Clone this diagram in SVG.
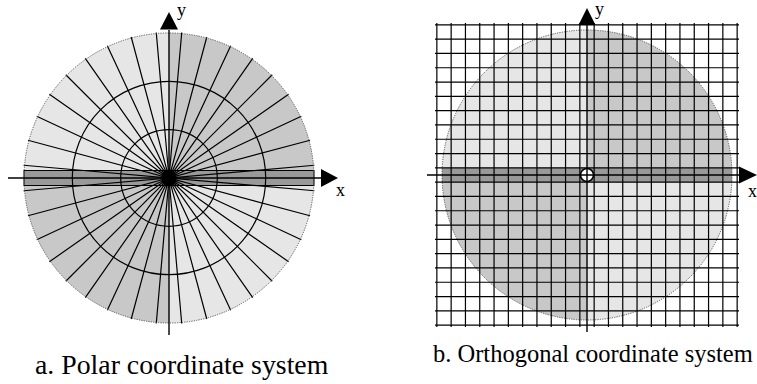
<svg xmlns="http://www.w3.org/2000/svg" width="757" height="384" viewBox="0 0 757 384">
<style>
.light{fill:#e6e6e6}
.dark{fill:#c8c8c8}
.band{fill:#999999}
.ln{stroke:#000;stroke-width:1.2;fill:none}
.axis{stroke:#000;stroke-width:1.4;fill:none}
.rim{fill:none;stroke:#555;stroke-width:1;stroke-dasharray:1.2 1.2}
.arrow{fill:#000}
.lbl{font-family:"Liberation Serif","Times New Roman",serif;font-size:18px;fill:#000}
.cap{font-family:"Liberation Serif","Times New Roman",serif;fill:#000}
</style>
<g id="polar">
  <circle class="light" cx="169" cy="178" r="145"/>
  <path class="dark" d="M169,178 L314,178 A145,145 0 0 0 169,33 Z"/>
  <path class="dark" d="M169,178 L24,178 A145,145 0 0 0 169,323 Z"/>
  <rect class="band" x="24" y="170.5" width="290" height="15" stroke="#000" stroke-width="1"/>
  <path class="ln" d="M23.56,190.73L314.44,165.27M314.44,190.73L23.56,165.27M27.97,215.79L310.03,140.21M310.03,215.79L27.97,140.21M36.68,239.7L301.32,116.3M301.32,239.7L36.68,116.3M49.4,261.74L288.6,94.26M288.6,261.74L49.4,94.26M65.76,281.24L272.24,74.76M272.24,281.24L65.76,74.76M85.26,297.6L252.74,58.4M252.74,297.6L85.26,58.4M107.3,310.32L230.7,45.68M230.7,310.32L107.3,45.68M131.21,319.03L206.79,36.97M206.79,319.03L131.21,36.97M156.27,323.44L181.73,32.56M181.73,323.44L156.27,32.56"/>
  <circle class="ln" cx="169" cy="178" r="48.3"/>
  <circle class="ln" cx="169" cy="178" r="96.7"/>
  <circle class="rim" cx="169" cy="178" r="145"/>
  <circle cx="169" cy="178" r="7.5" fill="#000"/>
</g>
<g id="polar-axes">
  <path class="axis" d="M8,178H322M169,335V30"/>
  <polygon class="arrow" points="321,169 338,178 321,187"/>
  <polygon class="arrow" points="160,29.5 169,12 178,29.5"/>
  <text class="lbl" x="336" y="196">x</text>
  <text class="lbl" x="177" y="16">y</text>
</g>
<g id="orthogonal">
  <circle class="light" cx="587" cy="175" r="145"/>
  <path class="dark" d="M587,175 L732,175 A145,145 0 0 0 587,30 Z"/>
  <path class="dark" d="M587,175 L442,175 A145,145 0 0 0 587,320 Z"/>
  <rect class="band" x="442" y="167.85" width="290" height="14.3"/>
  <circle class="rim" cx="587" cy="175" r="145"/>
  <path class="ln" d="M436.85,23V327M451.15,23V327M465.45,23V327M479.75,23V327M494.05,23V327M508.35,23V327M522.65,23V327M536.95,23V327M551.25,23V327M565.55,23V327M579.85,23V327M594.15,23V327M608.45,23V327M622.75,23V327M637.05,23V327M651.35,23V327M665.65,23V327M679.95,23V327M694.25,23V327M708.55,23V327M722.85,23V327M737.15,23V327"/>
  <path class="ln" d="M435,24.85H739M435,39.15H739M435,53.45H739M435,67.75H739M435,82.05H739M435,96.35H739M435,110.65H739M435,124.95H739M435,139.25H739M435,153.55H739M435,167.85H739M435,182.15H739M435,196.45H739M435,210.75H739M435,225.05H739M435,239.35H739M435,253.65H739M435,267.95H739M435,282.25H739M435,296.55H739M435,310.85H739M435,325.15H739"/>
  <circle cx="587" cy="175" r="6.5" fill="#fff" stroke="#000" stroke-width="1.6"/>
</g>
<g id="orthogonal-axes">
  <path class="axis" d="M427,175H740M587,332V25"/>
  <polygon class="arrow" points="739,166.5 757,175 739,183.5"/>
  <polygon class="arrow" points="578.5,25 587,8 595.5,25"/>
  <text class="lbl" x="748" y="197">x</text>
  <text class="lbl" x="595" y="15">y</text>
</g>
<g id="captions">
  <text class="cap" x="35" y="374" font-size="27.8">a. Polar coordinate system</text>
  <text class="cap" x="433" y="362" font-size="24.5">b. Orthogonal coordinate system</text>
</g>
</svg>
